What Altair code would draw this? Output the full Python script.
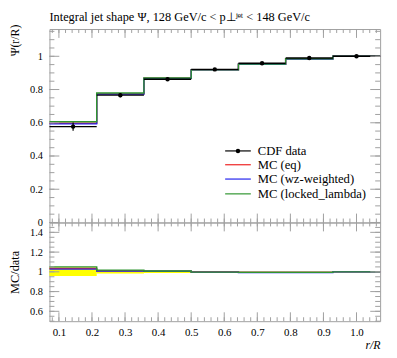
import altair as alt
import pandas as pd

# ---------------- data ----------------
bin_lo = [0.0714, 0.2143, 0.3571, 0.5, 0.6429, 0.7857, 0.9286]
bin_hi = [0.2143, 0.3571, 0.5, 0.6429, 0.7857, 0.9286, 1.0714]
bin_center = [0.1429, 0.2857, 0.4286, 0.5714, 0.7143, 0.8571, 1.0]
data_vals = [0.577, 0.766, 0.862, 0.921, 0.958, 0.990, 1.0]
data_errs = [0.025, 0.013, 0.010, 0.005, 0.004, 0.003, 0.001]
mc_eq = [0.597, 0.774, 0.868, 0.919, 0.953, 0.985, 1.0]
mc_wz = [0.593, 0.772, 0.867, 0.918, 0.952, 0.984, 1.0]
mc_locked = [0.606, 0.779, 0.869, 0.918, 0.953, 0.985, 1.0]
mc_names = ["MC (eq)", "MC (wz-weighted)", "MC (locked_lambda)"]
mc_colors = ["#ee2222", "#2222ee", "#2f952f"]
data_name = "CDF data"
title_text = "Integral jet shape Ψ, 128 GeV/c < p⊥ʲᵉᵗ < 148 GeV/c"

x_major = [0.1, 0.2, 0.3, 0.4, 0.5, 0.6, 0.7, 0.8, 0.9, 1.0]
main_y_labels = [0, 0.2, 0.4, 0.6, 0.8, 1.0]
ratio_y_labels = [0.6, 0.8, 1.0, 1.2, 1.4]

# ---------------- style ----------------
FONT = "Liberation Serif"
W, H_MAIN, H_RATIO = 335, 196, 100
XDOM = [0.0714, 1.0714]
YDOM_MAIN = [0, 1.164]
YDOM_RATIO = [0.5, 1.5]
TICK_COL = "#a0a0a0"

xs = alt.Scale(domain=XDOM, nice=False, zero=False)
ys_main = alt.Scale(domain=YDOM_MAIN, nice=False, zero=False)
ys_ratio = alt.Scale(domain=YDOM_RATIO, nice=False, zero=False)

x_minor = [round(0.08 + 0.02 * i, 3) for i in range(50) if 0.08 + 0.02 * i < 1.07]
main_minor = [round(0.05 * i, 3) for i in range(24) if 0.05 * i < 1.164]
main_major = [0, 0.2, 0.4, 0.6, 0.8, 1.0]
ratio_minor = [round(0.5 + 0.05 * i, 3) for i in range(21)]
ratio_major = [0.6, 0.8, 1.0, 1.2, 1.4]

main_y_axis = alt.Axis(values=main_y_labels, format="~g", ticks=False, domain=False, grid=False,
                       labelPadding=7, labelFont=FONT, labelFontSize=10.5, labelColor="black",
                       title="Ψ(r/R)", titleFont=FONT, titleFontSize=12, titleFontWeight="normal",
                       titleColor="black", titleAngle=270, titleX=-35, titleY=-5,
                       titleAlign="right", titleBaseline="middle")
ratio_y_axis = alt.Axis(values=ratio_y_labels, format="~g", ticks=False, domain=False, grid=False,
                        labelPadding=7, labelFont=FONT, labelFontSize=10.5, labelColor="black",
                        title="MC/data", titleFont=FONT, titleFontSize=12.5, titleFontWeight="normal",
                        titleColor="black", titleAngle=270, titleX=-35, titleY=H_RATIO / 2,
                        titleAlign="center", titleBaseline="middle")
ratio_x_axis = alt.Axis(values=x_major, format=".1f", ticks=False, domain=False, grid=False,
                        labelPadding=6, labelFont=FONT, labelFontSize=11, labelColor="black",
                        title="r/R", titleFont=FONT, titleFontSize=12, titleFontWeight="normal",
                        titleFontStyle="italic", titleColor="black", titleAnchor="end",
                        titleAlign="right", titlePadding=2)


def step_df(vals):
    xs_ = list(bin_lo) + [bin_hi[-1]]
    ys_ = list(vals) + [vals[-1]]
    return pd.DataFrame({"x": xs_, "y": ys_})


def tick_layers(height, yscale, ymaj, ymin, xaxis, yaxis):
    layers = []
    for vals, ln in ((x_minor, 4), (x_major, 9)):
        d = pd.DataFrame({"x": vals})
        for y0, y1 in ((height, height - ln), (0, ln)):
            layers.append(
                alt.Chart(d).mark_rule(color=TICK_COL, strokeWidth=1).encode(
                    x=alt.X("x:Q", scale=xs, axis=xaxis),
                    y=alt.value(y0), y2=alt.value(y1)))
    for vals, ln in ((ymin, 5), (ymaj, 10)):
        d = pd.DataFrame({"y": vals})
        for x0, x1 in ((0, ln), (W, W - ln)):
            layers.append(
                alt.Chart(d).mark_rule(color=TICK_COL, strokeWidth=1).encode(
                    y=alt.Y("y:Q", scale=yscale, axis=yaxis),
                    x=alt.value(x0), x2=alt.value(x1)))
    return layers


# ---------------- main panel ----------------
MX = dict(scale=xs, axis=None)
MY = dict(scale=ys_main, axis=main_y_axis)

main_layers = []
for vals, col in zip([mc_eq, mc_wz, mc_locked], mc_colors):
    main_layers.append(
        alt.Chart(step_df(vals)).mark_line(interpolate="step-after", color=col, strokeWidth=1.4).encode(
            x=alt.X("x:Q", **MX), y=alt.Y("y:Q", **MY)))

dd = pd.DataFrame({"lo": bin_lo, "hi": bin_hi, "c": bin_center, "v": data_vals,
                   "e_lo": [v - e for v, e in zip(data_vals, data_errs)],
                   "e_hi": [v + e for v, e in zip(data_vals, data_errs)]})
main_layers.append(
    alt.Chart(dd).mark_rule(color="black", strokeWidth=1.4).encode(
        x=alt.X("lo:Q", **MX), x2="hi:Q", y=alt.Y("v:Q", **MY)))
main_layers.append(
    alt.Chart(dd).mark_rule(color="black", strokeWidth=1.2).encode(
        x=alt.X("c:Q", **MX), y=alt.Y("e_lo:Q", **MY), y2="e_hi:Q"))
main_layers.append(
    alt.Chart(dd).mark_circle(color="black", size=20, opacity=1).encode(
        x=alt.X("c:Q", **MX), y=alt.Y("v:Q", **MY)))

# legend (manual)
leg_rows = [123.5, 137.5, 152.0, 167.0]
LX0, LX1, LT = 178, 204, 211
LFS = 12.8
one = pd.DataFrame({"a": [0]})
main_layers.append(
    alt.Chart(one).mark_rule(color="black", strokeWidth=1.2).encode(
        x=alt.value(LX0), x2=alt.value(LX1), y=alt.value(leg_rows[0])))
main_layers.append(
    alt.Chart(one).mark_circle(color="black", size=20, opacity=1).encode(
        x=alt.value((LX0 + LX1) / 2), y=alt.value(leg_rows[0])))
main_layers.append(
    alt.Chart(one).mark_text(text=data_name, align="left", baseline="middle",
                             font=FONT, fontSize=LFS, color="black").encode(
        x=alt.value(LT), y=alt.value(leg_rows[0])))
for name, col, yy in zip(mc_names, mc_colors, leg_rows[1:]):
    main_layers.append(
        alt.Chart(one).mark_rule(color=col, strokeWidth=1.2).encode(
            x=alt.value(LX0), x2=alt.value(LX1), y=alt.value(yy)))
    main_layers.append(
        alt.Chart(one).mark_text(text=name, align="left", baseline="middle",
                                 font=FONT, fontSize=LFS, color="black").encode(
            x=alt.value(LT), y=alt.value(yy)))

main_layers += tick_layers(H_MAIN, ys_main, main_major, main_minor, None, main_y_axis)

main = alt.layer(*main_layers).properties(
    width=W, height=H_MAIN,
    title=alt.TitleParams(title_text, anchor="start", frame="group", font=FONT, fontSize=12.5,
                          fontWeight="normal", color="black", offset=1))

# ---------------- ratio panel ----------------
RX = dict(scale=xs, axis=ratio_x_axis)
RY = dict(scale=ys_ratio, axis=ratio_y_axis)
rd = pd.DataFrame({"lo": bin_lo, "hi": bin_hi,
                   "b_lo": [1 - e / v for v, e in zip(data_vals, data_errs)],
                   "b_hi": [1 + e / v for v, e in zip(data_vals, data_errs)]})
ratio_layers = []
ratio_layers.append(
    alt.Chart(rd).mark_rect(color="#ffff00", opacity=1).encode(
        x=alt.X("lo:Q", **RX), x2="hi:Q", y=alt.Y("b_lo:Q", **RY), y2="b_hi:Q"))
for vals, col in zip([mc_eq, mc_wz, mc_locked], mc_colors):
    rv = [m / d for m, d in zip(vals, data_vals)]
    ratio_layers.append(
        alt.Chart(step_df(rv)).mark_line(interpolate="step-after", color=col, strokeWidth=1.4).encode(
            x=alt.X("x:Q", **RX), y=alt.Y("y:Q", **RY)))
ratio_layers += tick_layers(H_RATIO, ys_ratio, ratio_major, ratio_minor, ratio_x_axis, ratio_y_axis)

ratio = alt.layer(*ratio_layers).properties(width=W, height=H_RATIO)

chart = alt.vconcat(main, ratio, spacing=0, bounds="flush").properties(
    padding={"left": 0, "top": 0, "right": 5, "bottom": 5}
).configure_view(stroke="#a0a0a0", strokeWidth=1)

chart.save("out.html", embed_options={"renderer": "svg", "actions": False})
